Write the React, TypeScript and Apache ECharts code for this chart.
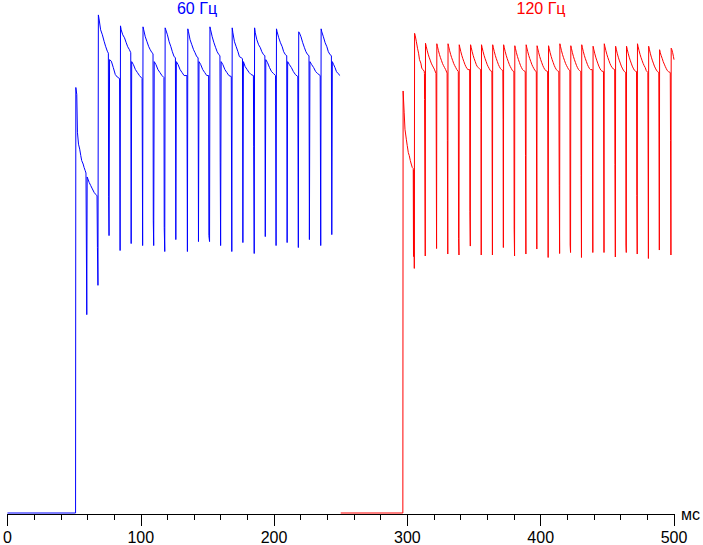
import React, { useEffect, useRef } from "react";
import * as echarts from "echarts";

const xMin = 0;
const xMax = 500;
const xStep = 100;
const xUnit = "мс";
const seriesNames = ["60 Гц", "120 Гц"];
const seriesColors = ["#0000ff", "#ff0000"];
const yMax = 103.4;

// 60 Hz trace: [time ms, brightness %]
const blueTrace: [number, number][] = [
  [0, 0.2], [51.1, 0.2],
  [51.3, 85.8], [52.0, 84.4], [52.5, 76.8], [53.3, 74.4], [54.2, 73.4], [55.0, 72.1], [55.7, 71.1], [56.8, 70.4], [57.5, 69.7], [58.3, 69.1], [58.9, 68.6],
  [59.5, 40.1], [59.8, 67.8], [61.3, 66.7], [62.4, 66.1], [63.7, 65.4], [65.0, 64.7], [66.2, 64.3], [67.2, 64.0], [67.5, 53.6], [67.9, 46.0],
  [68.2, 100.4], [68.7, 99.6], [69.9, 97.4], [71.2, 96.4], [72.5, 95.1], [73.6, 94.1], [74.9, 93.1], [75.7, 92.7], [75.9, 63.8], [76.2, 56.0], [76.6, 91.4], [77.9, 91.1], [79.4, 89.8], [80.9, 88.4], [82.4, 87.9], [84.1, 87.6], [84.5, 53.0],
  [84.8, 98.2], [85.3, 97.4], [86.5, 96.4], [87.8, 95.8], [89.1, 94.8], [90.2, 94.0], [91.5, 93.4], [92.5, 92.8], [92.8, 54.4], [93.2, 91.0], [94.5, 90.4], [96.0, 89.4], [97.5, 88.8], [99.0, 88.2], [101.0, 87.6], [101.4, 54.0],
  [101.7, 98.0], [102.2, 97.4], [103.4, 96.0], [104.7, 95.0], [106.0, 94.0], [107.1, 93.4], [108.4, 92.8], [109.2, 92.6], [109.4, 59.1], [109.7, 54.0], [110.1, 91.0], [111.4, 90.4], [112.9, 89.4], [114.4, 88.8], [115.9, 88.2], [117.4, 87.8], [117.6, 57.6], [118.0, 52.8],
  [118.3, 97.8], [118.8, 97.4], [120.0, 96.4], [121.3, 95.0], [122.6, 94.0], [123.7, 93.0], [125.0, 92.0], [126.0, 91.8], [126.3, 55.2], [126.7, 91.0], [128.0, 90.4], [129.5, 89.4], [131.0, 88.8], [132.5, 88.2], [134.6, 88.2], [135.0, 52.8],
  [135.3, 97.6], [135.8, 97.0], [137.0, 95.4], [138.3, 94.4], [139.6, 93.4], [140.7, 92.8], [142.0, 92.0], [143.0, 91.8], [143.3, 54.8], [143.7, 91.0], [145.0, 90.4], [146.5, 89.4], [148.0, 88.8], [149.5, 88.2], [150.9, 88.2], [151.1, 56.0], [151.6, 54.8],
  [151.9, 98.0], [152.4, 97.4], [153.6, 96.0], [154.9, 94.8], [156.2, 93.8], [157.3, 93.0], [158.6, 92.4], [159.4, 92.2], [159.6, 70.8], [159.9, 54.0], [160.3, 91.0], [161.6, 90.4], [163.1, 89.4], [164.6, 88.8], [166.1, 88.2], [167.9, 88.0], [168.3, 52.8],
  [168.6, 97.8], [169.1, 96.8], [170.3, 95.0], [171.6, 94.0], [172.9, 93.0], [174.0, 92.0], [175.3, 91.8], [176.3, 91.6], [176.6, 54.6], [177.0, 91.0], [178.3, 90.0], [179.8, 89.4], [181.3, 88.8], [182.8, 88.4], [184.5, 88.2], [184.7, 74.0], [185.1, 52.4],
  [185.4, 97.8], [185.9, 96.8], [187.1, 95.4], [188.4, 94.4], [189.7, 93.8], [190.8, 93.0], [192.1, 92.4], [193.1, 92.2], [193.4, 55.8], [193.8, 91.4], [195.1, 90.8], [196.6, 89.8], [198.1, 89.0], [199.6, 88.6], [201.1, 88.2], [201.5, 54.0],
  [201.8, 97.6], [202.3, 97.0], [203.5, 95.8], [204.8, 94.8], [206.1, 94.0], [207.2, 93.0], [208.5, 92.4], [209.5, 92.2], [209.8, 54.6], [210.2, 91.0], [211.5, 90.4], [213.0, 89.8], [214.5, 89.0], [216.0, 88.4], [217.8, 88.0], [218.2, 53.6],
  [218.5, 97.0], [219.0, 96.8], [220.2, 96.0], [221.5, 94.8], [222.8, 93.8], [223.9, 93.0], [225.2, 92.4], [226.2, 92.2], [226.5, 55.2], [226.9, 91.0], [228.2, 90.4], [229.7, 89.8], [231.2, 89.0], [232.7, 88.6], [234.6, 88.2], [235.0, 54.0],
  [235.3, 97.6], [235.8, 97.0], [237.0, 96.0], [238.3, 94.8], [239.6, 94.0], [240.7, 93.0], [242.0, 92.4], [243.0, 92.2], [243.3, 56.2], [243.7, 91.0], [244.7, 90.4], [245.7, 89.8], [246.8, 89.0], [248.0, 88.6], [249.5, 88.2],
];

// 120 Hz trace: [time ms, brightness %]
const redTrace: [number, number][] = [
  [250.0, 0.2], [296.6, 0.2],
  [296.8, 85.1], [297.6, 80.7], [298.2, 77.4], [299.2, 75.4], [299.9, 74.1], [300.7, 72.7], [301.4, 72.1], [302.2, 71.1], [302.9, 70.4], [303.7, 69.7], [304.4, 69.5], [304.6, 51.8], [304.9, 69.2], [305.2, 49.4],
  [305.4, 96.7], [305.9, 96.2], [306.7, 95.1], [307.6, 93.7], [308.4, 92.7], [309.1, 91.4], [310.1, 90.7], [310.8, 89.7], [311.6, 89.4], [312.6, 89.1], [312.8, 88.6], [312.9, 83.4], [313.4, 51.9],
  [313.6, 94.7], [314.1, 94.1], [314.8, 93.3], [315.6, 92.5], [316.3, 91.9], [317.1, 91.3], [317.9, 90.7], [318.6, 90.3], [319.4, 89.9], [320.2, 89.5], [321.5, 88.6], [321.9, 53.4],
  [322.1, 94.6], [322.6, 94.0], [323.3, 93.2], [324.1, 92.4], [324.8, 91.8], [325.6, 91.2], [326.4, 90.6], [327.1, 90.2], [327.9, 89.8], [328.7, 89.4], [329.8, 88.7], [330.0, 75.1], [330.3, 52.3],
  [330.5, 94.6], [331.0, 94.0], [331.7, 93.2], [332.5, 92.4], [333.2, 91.8], [334.0, 91.2], [334.8, 90.6], [335.5, 90.2], [336.3, 89.8], [337.1, 89.4], [338.2, 89.0], [338.4, 55.4], [338.7, 52.1],
  [338.9, 94.4], [339.4, 93.8], [340.1, 93.0], [340.9, 92.2], [341.6, 91.6], [342.4, 91.0], [343.2, 90.4], [343.9, 90.0], [344.7, 89.6], [345.5, 89.4], [346.7, 89.4], [346.9, 60.9], [347.2, 53.9],
  [347.4, 94.4], [347.9, 93.8], [348.6, 93.0], [349.4, 92.2], [350.1, 91.6], [350.9, 91.0], [351.7, 90.4], [352.4, 90.0], [353.2, 89.8], [354.0, 89.6], [355.0, 89.4], [355.2, 80.7], [355.4, 52.1],
  [355.6, 94.4], [356.1, 93.8], [356.8, 93.0], [357.6, 92.2], [358.3, 91.6], [359.1, 91.0], [359.9, 90.4], [360.6, 90.0], [361.4, 89.6], [362.2, 89.2], [363.4, 89.0], [363.8, 52.1],
  [364.0, 94.4], [364.5, 93.8], [365.2, 93.0], [366.0, 92.2], [366.7, 91.6], [367.5, 91.0], [368.3, 90.4], [369.0, 90.0], [369.8, 89.6], [370.6, 89.4], [371.6, 89.2], [371.8, 79.3], [372.0, 53.6],
  [372.2, 94.4], [372.7, 93.8], [373.4, 93.0], [374.2, 92.2], [374.9, 91.6], [375.7, 91.0], [376.5, 90.4], [377.2, 90.0], [378.0, 89.6], [378.8, 89.2], [379.9, 89.0], [380.1, 57.3], [380.4, 51.9],
  [380.6, 94.2], [381.1, 93.6], [381.8, 92.8], [382.6, 92.0], [383.3, 91.4], [384.1, 90.8], [384.9, 90.2], [385.6, 89.8], [386.4, 89.4], [387.2, 89.2], [388.4, 89.0], [388.6, 72.1], [388.9, 52.3],
  [389.1, 94.4], [389.6, 93.8], [390.3, 93.0], [391.1, 92.2], [391.8, 91.6], [392.6, 91.0], [393.4, 90.4], [394.1, 90.0], [394.9, 89.6], [395.7, 89.2], [396.7, 89.0], [397.1, 53.3],
  [397.3, 94.2], [397.8, 93.6], [398.5, 92.8], [399.3, 92.0], [400.0, 91.4], [400.8, 90.8], [401.6, 90.2], [402.3, 89.8], [403.1, 89.4], [403.9, 89.2], [405.2, 89.0], [405.6, 51.6],
  [405.9, 94.2], [406.4, 93.6], [407.1, 92.8], [407.9, 92.0], [408.6, 91.4], [409.4, 90.8], [410.2, 90.2], [410.9, 89.8], [411.7, 89.4], [412.5, 89.2], [413.6, 89.0], [413.9, 66.1], [414.2, 52.4],
  [414.4, 94.6], [414.9, 94.0], [415.6, 93.2], [416.4, 92.4], [417.1, 91.8], [417.9, 91.2], [418.7, 90.6], [419.4, 90.2], [420.2, 89.8], [421.0, 89.4], [421.9, 89.2], [422.1, 54.1], [422.4, 52.6],
  [422.6, 94.2], [423.1, 93.6], [423.8, 92.8], [424.6, 92.0], [425.3, 91.4], [426.1, 90.8], [426.9, 90.2], [427.6, 89.8], [428.4, 89.4], [429.2, 89.2], [430.1, 89.0], [430.3, 68.1], [430.6, 51.6],
  [430.8, 94.4], [431.3, 93.8], [432.0, 93.0], [432.8, 92.2], [433.5, 91.6], [434.3, 91.0], [435.1, 90.4], [435.8, 90.0], [436.6, 89.6], [437.4, 89.4], [438.7, 89.4], [439.1, 52.6],
  [439.3, 94.1], [439.8, 93.5], [440.5, 92.7], [441.3, 91.9], [442.0, 91.3], [442.8, 90.7], [443.6, 90.1], [444.3, 89.7], [445.1, 89.3], [445.9, 89.1], [447.1, 89.0], [447.5, 52.6],
  [447.7, 94.6], [448.2, 94.0], [448.9, 93.2], [449.7, 92.4], [450.4, 91.8], [451.2, 91.2], [452.0, 90.6], [452.7, 90.2], [453.5, 89.8], [454.3, 89.6], [455.5, 89.4], [455.7, 70.3], [456.0, 51.7],
  [456.2, 94.1], [456.7, 93.5], [457.4, 92.7], [458.2, 91.9], [458.9, 91.3], [459.7, 90.7], [460.5, 90.1], [461.2, 89.7], [462.0, 89.3], [462.8, 89.0], [463.8, 88.8], [464.0, 54.1], [464.2, 52.6],
  [464.4, 94.1], [464.9, 93.5], [465.6, 92.7], [466.4, 91.9], [467.1, 91.3], [467.9, 90.7], [468.7, 90.1], [469.4, 89.7], [470.2, 89.3], [471.0, 89.1], [471.9, 89.0], [472.1, 64.1], [472.4, 52.3],
  [472.6, 94.6], [473.1, 94.0], [473.8, 93.2], [474.6, 92.4], [475.3, 91.8], [476.1, 91.2], [476.9, 90.6], [477.6, 90.2], [478.4, 89.8], [479.2, 89.2], [480.4, 88.8], [480.8, 51.4],
  [481.0, 94.1], [481.5, 93.5], [482.2, 92.7], [483.0, 91.9], [483.7, 91.3], [484.5, 90.7], [485.3, 90.1], [486.0, 89.7], [486.8, 89.3], [487.6, 89.0], [488.6, 88.8], [489.0, 53.1],
  [489.2, 93.4], [489.7, 92.8], [490.4, 92.2], [491.2, 91.6], [491.9, 91.0], [492.7, 90.5], [493.5, 90.0], [494.2, 89.6], [495.0, 89.2], [495.8, 89.0], [497.2, 88.8], [497.4, 75.1], [497.7, 52.1],
  [497.9, 93.7], [498.4, 93.4], [499.0, 92.8], [499.6, 92.0], [500.0, 91.4],
];

const FONT = '"Liberation Sans", Arial, sans-serif';

export default function App() {
  const ref = useRef<HTMLDivElement>(null);

  useEffect(() => {
    if (!ref.current) return;
    const chart = echarts.init(ref.current, undefined, { renderer: "svg" });
    chart.setOption({
      animation: false,
      backgroundColor: "#ffffff",
      grid: { left: 4.5, right: 27.5, top: 0, bottom: 28, containLabel: false },
      xAxis: {
        type: "value",
        min: xMin,
        max: xMax,
        interval: xStep,
        name: xUnit,
        nameLocation: "end",
        nameGap: 7,
        nameTextStyle: { fontSize: 16, color: "#000", fontFamily: FONT, verticalAlign: "middle", align: "left" },
        axisLine: { show: true, lineStyle: { color: "#000", width: 1 } },
        axisTick: { show: true, length: 12, lineStyle: { color: "#000", width: 1 } },
        minorTick: { show: true, splitNumber: 5, length: 6, lineStyle: { color: "#000", width: 1 } },
        axisLabel: { fontSize: 16, color: "#000", fontFamily: FONT, margin: 15 },
        splitLine: { show: false },
        minorSplitLine: { show: false },
      },
      yAxis: { type: "value", min: 0, max: yMax, show: false, splitLine: { show: false } },
      graphic: [
        {
          type: "text",
          x: 197,
          y: 8,
          style: { text: seriesNames[0], fill: seriesColors[0], fontSize: 16, fontFamily: FONT, align: "center", verticalAlign: "middle" },
        },
        {
          type: "text",
          x: 541,
          y: 8.5,
          style: { text: seriesNames[1], fill: seriesColors[1], fontSize: 16, fontFamily: FONT, align: "center", verticalAlign: "middle" },
        },
      ],
      series: [
        {
          name: seriesNames[0],
          type: "line",
          data: blueTrace,
          showSymbol: false,
          symbol: "none",
          lineStyle: { color: seriesColors[0], width: 1 },
          itemStyle: { color: seriesColors[0] },
        },
        {
          name: seriesNames[1],
          type: "line",
          data: redTrace,
          showSymbol: false,
          symbol: "none",
          lineStyle: { color: seriesColors[1], width: 1 },
          itemStyle: { color: seriesColors[1] },
        },
      ],
    });
    return () => chart.dispose();
  }, []);

  return <div ref={ref} style={{ width: 703, height: 545, position: "absolute", left: 0, top: 0 }} />;
}
